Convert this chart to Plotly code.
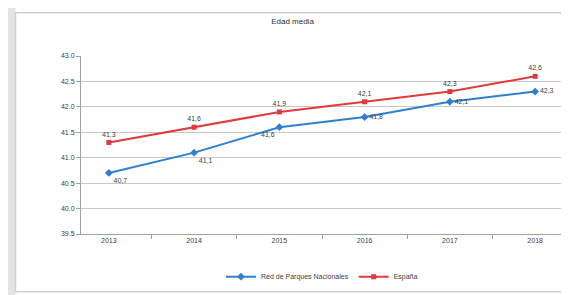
import plotly.graph_objects as go

years = ["2013", "2014", "2015", "2016", "2017", "2018"]
red_parques = [40.7, 41.1, 41.6, 41.8, 42.1, 42.3]
espana = [41.3, 41.6, 41.9, 42.1, 42.3, 42.6]
red_labels = ["40,7", "41,1", "41,6", "41,8", "42,1", "42,3"]
esp_labels = ["41,3", "41,6", "41,9", "42,1", "42,3", "42,6"]
blue_pos = ["bottom right", "bottom right", "bottom left", "middle right", "middle right", "middle right"]

fig = go.Figure()
fig.add_trace(go.Scatter(
    x=years, y=red_parques, name="Red de Parques Nacionales",
    mode="lines+markers+text", text=red_labels, textposition=blue_pos,
    textfont=dict(size=7, color="#404040"),
    line=dict(color="#2f7fd0", width=2),
    marker=dict(symbol="diamond", size=6, color="#2f7fd0"),
))
fig.add_trace(go.Scatter(
    x=years, y=espana, name="España",
    mode="lines+markers+text", text=esp_labels, textposition="top center",
    textfont=dict(size=7, color="#404040"),
    line=dict(color="#e2393d", width=2),
    marker=dict(symbol="square", size=5, color="#e2393d"),
))

# outer shadow on the left
fig.add_shape(type="rect", xref="paper", yref="paper", layer="below",
              x0=-0.152, x1=-0.136, y0=-0.35, y1=1.3,
              fillcolor="#e4e4e4", line=dict(width=0))
# chart frame
fig.add_shape(type="rect", xref="paper", yref="paper",
              x0=-0.136, x1=1.04, y0=-0.324, y1=1.243,
              line=dict(color="#cfcfcf", width=1.5))

fig.update_layout(
    width=569, height=295,
    margin=dict(l=73, r=14, t=48, b=62),
    paper_bgcolor="white", plot_bgcolor="white",
    font=dict(family="Liberation Sans, Arial", size=7, color="#404040"),
    title=dict(text="Edad media", x=0.5, xanchor="center", y=0.955, yanchor="middle",
               font=dict(size=8, color="#303030")),
    showlegend=True,
    legend=dict(orientation="h", x=0.5, xanchor="center", y=-0.24, yanchor="middle",
                font=dict(size=7), bgcolor="rgba(0,0,0,0)"),
    xaxis=dict(type="category", showgrid=False, showline=True, linecolor="#a0a0a0",
               ticks="outside", tickson="boundaries", ticklen=4, tickcolor="#a0a0a0"),
    yaxis=dict(range=[39.5, 43.0], dtick=0.5, tickformat=".1f", showgrid=True,
               gridcolor="#c8c8c8", showline=True, linecolor="#a0a0a0",
               ticks="outside", ticklen=4, tickcolor="#a0a0a0", zeroline=False),
)

fig.write_html("out.html")
